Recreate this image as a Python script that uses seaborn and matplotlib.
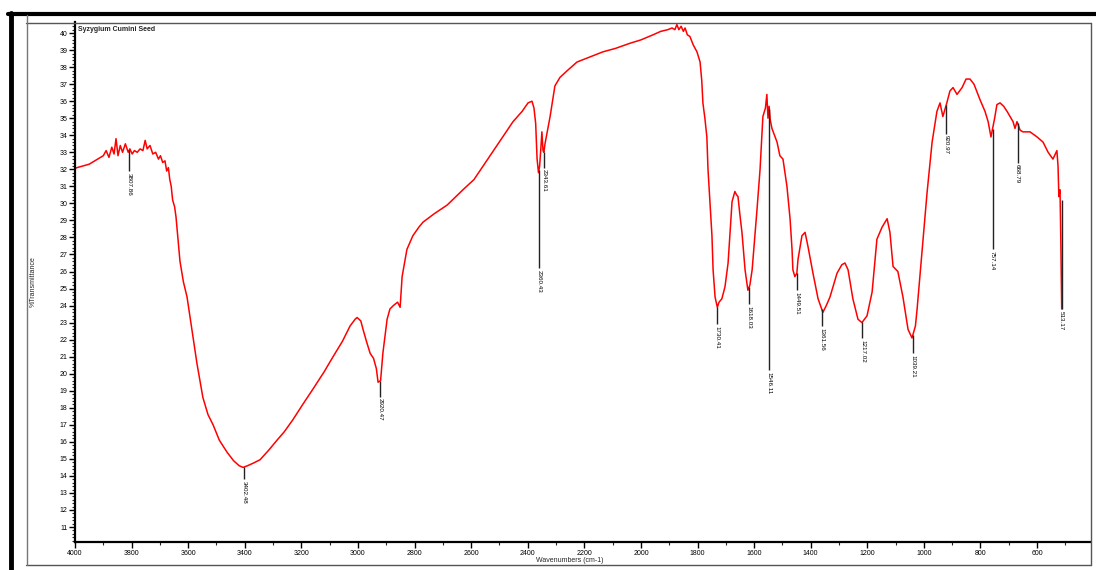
import matplotlib
matplotlib.use("Agg")
import numpy as np
import matplotlib.pyplot as plt
from matplotlib.lines import Line2D
from matplotlib.ticker import MultipleLocator
import seaborn as sns

# FTIR spectrum (cm-1, %T)
wavenumber = [
    4000, 3993, 3950, 3920, 3900, 3890, 3880, 3870, 3862, 3855, 3848, 3840, 3832, 3822,
    3812, 3806, 3798, 3790, 3780, 3770, 3760, 3752, 3745, 3735, 3725, 3715, 3705, 3698,
    3690, 3682, 3676, 3670, 3665, 3660, 3655, 3648, 3643, 3638, 3629, 3617, 3604, 3587,
    3569, 3548, 3530, 3512, 3490, 3463, 3440, 3420, 3406, 3390, 3370, 3346, 3316, 3286,
    3260, 3230, 3195, 3159, 3120, 3088, 3055, 3028, 3010, 3003, 2990, 2982, 2970, 2957,
    2945, 2935, 2929, 2920, 2912, 2897, 2887, 2875, 2860, 2851, 2844, 2827, 2806, 2785,
    2770, 2730, 2685, 2629, 2590, 2558, 2509, 2452, 2420, 2399, 2385, 2378, 2372, 2367,
    2362, 2358, 2353, 2350, 2346, 2343, 2339, 2330, 2321, 2304, 2286, 2260, 2226, 2180,
    2134, 2090, 2039, 2000, 1957, 1930, 1905, 1890, 1880, 1873, 1866, 1858, 1850, 1844,
    1836, 1827, 1815, 1802, 1791, 1785, 1781, 1774, 1767, 1763, 1756, 1749, 1745, 1738,
    1730, 1724, 1714, 1703, 1692, 1678, 1668, 1662, 1657, 1650, 1643, 1632, 1622, 1615,
    1607, 1590, 1579, 1569, 1560, 1555, 1551, 1547, 1543, 1537, 1528, 1519, 1509, 1498,
    1484, 1473, 1466, 1463, 1456, 1449, 1445, 1431, 1420, 1410, 1392, 1374, 1357, 1345,
    1332, 1307, 1290, 1279, 1268, 1251, 1233, 1219, 1201, 1183, 1166, 1148, 1130, 1120,
    1109, 1092, 1074, 1056, 1042, 1030, 1024, 1007, 989, 971, 954, 943, 933, 919,
    908, 897, 883, 865, 851, 837, 823, 809, 802, 784, 773, 763, 750, 742,
    731, 718, 706, 685, 678, 671, 660, 650, 625, 600, 579, 561, 544, 530,
    526, 523, 519, 516, 513,
]
transmittance = [
    32.05, 32.1, 32.3, 32.6, 32.8, 33.1, 32.7, 33.3, 32.9, 33.8, 32.8, 33.4, 33.0, 33.5,
    33.0, 33.2, 32.9, 33.1, 33.0, 33.2, 33.1, 33.7, 33.2, 33.4, 32.9, 33.0, 32.6, 32.8,
    32.4, 32.5, 31.9, 32.1, 31.4, 31.0, 30.2, 29.8, 29.2, 28.3, 26.6, 25.4, 24.5, 22.6,
    20.6, 18.6, 17.6, 17.0, 16.1, 15.4, 14.9, 14.6, 14.5, 14.6, 14.75, 14.95, 15.5, 16.1,
    16.6, 17.3, 18.2, 19.1, 20.1, 21.0, 21.9, 22.8, 23.2, 23.3, 23.1, 22.6, 21.9, 21.2,
    20.9, 20.3, 19.5, 19.6, 21.2, 23.2, 23.8, 24.0, 24.2, 23.9, 25.7, 27.3, 28.1, 28.6,
    28.9, 29.4, 29.9, 30.8, 31.4, 32.2, 33.4, 34.8, 35.4, 35.9, 36.0, 35.6, 34.7, 32.6,
    31.8, 32.2, 33.4, 34.2, 33.1, 33.0, 33.5, 34.3, 35.1, 36.9, 37.4, 37.8, 38.3, 38.6,
    38.9, 39.1, 39.4, 39.6, 39.9, 40.1, 40.2, 40.3, 40.2, 40.5, 40.2, 40.4, 40.1, 40.3,
    39.9, 39.8, 39.3, 38.9, 38.3, 37.2, 35.9, 35.0, 33.9, 32.0, 30.1, 28.1, 26.1, 24.5,
    23.9, 24.2, 24.4, 25.1, 26.5, 30.1, 30.7, 30.5, 30.4, 29.3, 28.3, 26.1, 24.9, 25.2,
    26.1, 29.6, 32.0, 35.1, 35.6, 36.4, 35.0, 35.7, 34.9, 34.4, 34.0, 33.6, 32.8, 32.6,
    31.0, 29.1, 27.3, 26.1, 25.7, 25.9, 26.7, 28.1, 28.3, 27.5, 25.9, 24.4, 23.6, 24.0,
    24.5, 25.9, 26.4, 26.5, 26.1, 24.4, 23.2, 23.0, 23.4, 24.8, 27.9, 28.6, 29.1, 28.3,
    26.3, 26.0, 24.5, 22.6, 22.1, 22.8, 23.8, 27.1, 30.6, 33.6, 35.4, 35.9, 35.1, 35.9,
    36.6, 36.8, 36.4, 36.8, 37.3, 37.3, 37.0, 36.4, 36.1, 35.4, 34.8, 33.9, 35.0, 35.8,
    35.9, 35.7, 35.4, 34.8, 34.4, 34.8, 34.3, 34.2, 34.2, 33.9, 33.6, 33.0, 32.6, 33.1,
    32.2, 30.4, 30.8, 27.7, 23.8,
]

# labelled peaks and where their leader lines end (%T)
peak_wn = [3807.86, 3402.48, 2920.47, 2360.43, 2343.61, 1730.41, 1618.03, 1546.11,
           1449.51, 1361.56, 1217.02, 1039.21, 920.97, 757.14, 668.79, 513.17]
peak_end = [31.9, 13.8, 18.65, 26.2, 32.1, 22.9, 24.1, 20.2,
            24.9, 22.8, 22.1, 21.2, 34.1, 27.3, 32.4, 23.8]

W, H = 1096, 570
sns.set_style("white")
plt.rcParams["font.family"] = ["Liberation Sans", "DejaVu Sans"]

fig = plt.figure(figsize=(W / 100, H / 100), dpi=100)
ax = fig.add_axes([75 / W, 1 - 542 / H, (1090 - 75) / W, (542 - 22) / H])

sns.lineplot(x=wavenumber, y=transmittance, color="red", linewidth=1.1,
             estimator=None, ax=ax)

# peak markers
wn_asc = np.array(wavenumber[::-1])
t_asc = np.array(transmittance[::-1])
tops = np.interp(peak_wn, wn_asc, t_asc)
tops[-1] = 30.2
ax.vlines(peak_wn, peak_end, tops, color="#222222", linewidth=1.0)
for wn, end in zip(peak_wn, peak_end):
    ax.text(wn, end - 0.1, f"{wn:.2f}", rotation=-90, ha="center", va="top",
            fontsize=4.5, color="black")

ax.set_xlim(4000, 413)
ax.set_ylim(10.12, 40.65)
ax.xaxis.set_minor_locator(MultipleLocator(100))
ax.yaxis.set_minor_locator(MultipleLocator(0.2))
ax.set_xticks(np.arange(600, 4001, 200))
ax.set_yticks(np.arange(11, 41, 1))
ax.tick_params(axis="both", which="major", direction="out", length=4, width=1,
               labelsize=5, pad=1.5, colors="black")
ax.tick_params(axis="both", which="minor", direction="out", length=2.5, width=0.8)
ax.tick_params(axis="x", which="both", bottom=True)
ax.tick_params(axis="y", which="both", left=True)

for side in ["top", "right"]:
    ax.spines[side].set_visible(False)
for side in ["left", "bottom"]:
    ax.spines[side].set_linewidth(1.6)
    ax.spines[side].set_color("black")

ax.set_xlabel("Wavenumbers (cm-1)", fontsize=5)
ax.set_ylabel("%Transmittance", fontsize=5)
ax.xaxis.set_label_coords((570 - 75) / 1015, -(557 - 542) / 520)
ax.yaxis.set_label_coords(-(75 - 37) / 1015, 0.5)
ax.text(0.003, 0.993, "Syzygium Cumini Seed", transform=ax.transAxes,
        ha="left", va="top", fontsize=5, fontweight="bold")

# page frame around the plot
def fx(px):
    return px / W


def fy(py):
    return 1 - py / H


frame = [
    ((fx(8), fx(W)), (fy(13.5), fy(13.5)), "black", 3.0),
    ((fx(11), fx(11)), (fy(13), fy(H)), "black", 3.5),
    ((fx(26), fx(1091)), (fy(23), fy(23)), "#555555", 1.0),
    ((fx(26), fx(1091)), (fy(565), fy(565)), "#555555", 1.0),
    ((fx(26.5), fx(26.5)), (fy(15), fy(565)), "#777777", 1.0),
    ((fx(1091), fx(1091)), (fy(23), fy(565)), "#555555", 1.0),
]
for xs, ys, c, lw in frame:
    fig.add_artist(Line2D(xs, ys, color=c, linewidth=lw))

fig.savefig("out.png", dpi=100)
